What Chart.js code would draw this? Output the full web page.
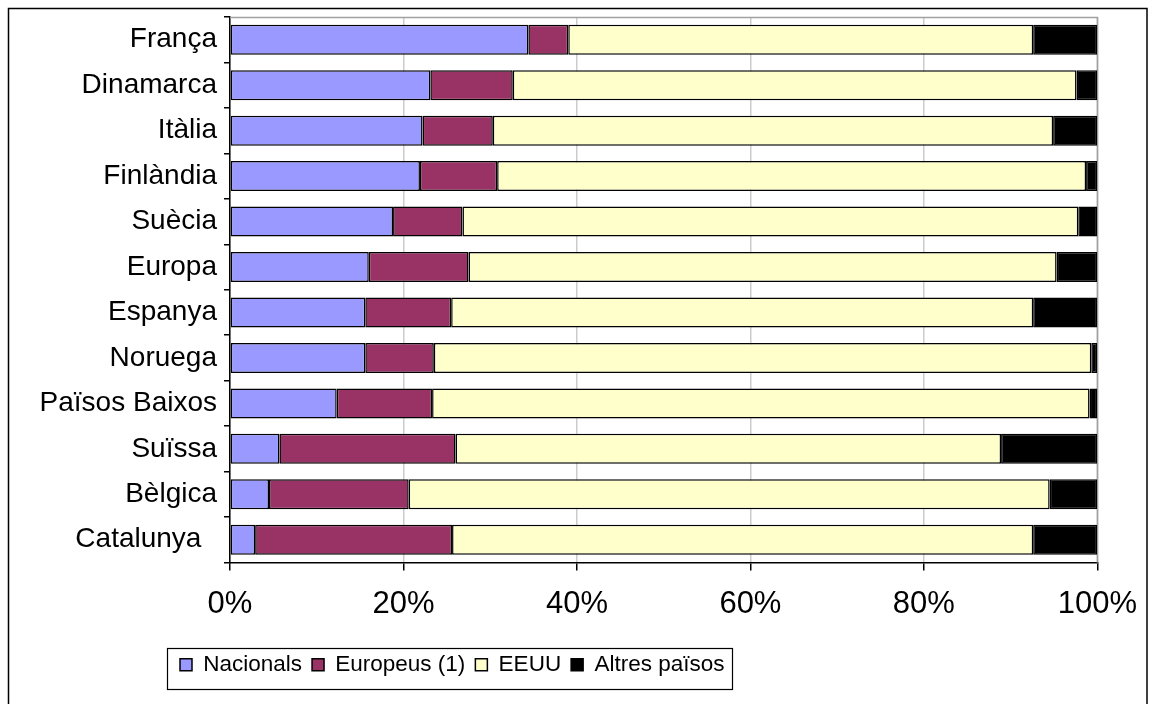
<!DOCTYPE html>
<html>
<head>
<meta charset="utf-8">
<script src="https://cdn.jsdelivr.net/npm/chart.js@4/dist/chart.umd.min.js"></script>
<style>
  html, body { margin: 0; padding: 0; background: #fff; }
  #wrap { position: relative; width: 1152px; height: 704px; }
</style>
</head>
<body>
<div id="wrap"><canvas id="c" width="1152" height="704"></canvas></div>
<script>
const categories = ["França", "Dinamarca", "Itàlia", "Finlàndia", "Suècia", "Europa", "Espanya", "Noruega", "Països Baixos", "Suïssa", "Bèlgica", "Catalunya  "];
const nacionals = [34.4, 23.1, 22.2, 21.9, 18.8, 16.0, 15.6, 15.6, 12.3, 5.7, 4.5, 2.9];
const europeus  = [4.6, 9.5, 8.1, 8.9, 8.0, 11.5, 9.9, 7.9, 11.0, 20.3, 16.1, 22.7];
const eeuu      = [53.6, 65.0, 64.6, 67.9, 71.0, 67.8, 67.1, 75.8, 75.8, 62.9, 73.9, 67.0];
const altres    = [7.4, 2.4, 5.1, 1.3, 2.2, 4.7, 7.4, 0.7, 0.9, 11.1, 5.5, 7.4];
const seriesNames = ["Nacionals", "Europeus (1)", "EEUU", "Altres països"];
const xTicks = [0, 20, 40, 60, 80, 100];

const colors = ["#9999FF", "#993366", "#FFFFCC", "#000000"];
const FONT = "'Liberation Sans', Arial, Helvetica, sans-serif";

const frame = {
  id: 'frame',
  afterLayout(chart) {
    const lg = chart.legend;
    if (lg) { lg.left = 170; }
  },
  beforeDraw(chart) {
    const ctx = chart.ctx;
    ctx.save();
    ctx.fillStyle = '#fff';
    ctx.fillRect(0, 0, chart.width, chart.height);
    ctx.strokeStyle = '#000';
    ctx.lineWidth = 1.5;
    ctx.strokeRect(8.5, 8.5, 1138.5, 720);
    ctx.restore();
  },
  beforeDatasetsDraw(chart) {
    const a = chart.chartArea, ctx = chart.ctx;
    ctx.save();
    ctx.strokeStyle = '#a0a0a0';
    ctx.lineWidth = 1.5;
    ctx.beginPath();
    ctx.moveTo(a.left, a.top + 0.5);
    ctx.lineTo(a.right, a.top + 0.5);
    ctx.lineTo(a.right, a.bottom);
    ctx.stroke();
    ctx.restore();
  },
  afterDraw(chart) {
    const lg = chart.legend;
    if (!lg || !lg.legendHitBoxes || !lg.legendHitBoxes.length) return;
    const hb = lg.legendHitBoxes;
    const first = hb[0], last = hb[hb.length - 1];
    const ctx = chart.ctx;
    const left = first.left - 13;
    const right = last.left + last.width + 8;
    const top = lg.top + 4;
    const bottom = lg.top + 45;
    ctx.save();
    ctx.strokeStyle = '#000';
    ctx.lineWidth = 1.2;
    ctx.strokeRect(Math.round(left) + 0.5, Math.round(top) + 0.5, Math.round(right - left), Math.round(bottom - top));
    ctx.restore();
  }
};

const seriesData = [nacionals, europeus, eeuu, altres];
const datasets = seriesNames.map((name, i) => ({
  label: name,
  data: seriesData[i],
  backgroundColor: colors[i],
  borderColor: '#000',
  borderWidth: 1.5,
  borderSkipped: false,
  barPercentage: 0.66,
  categoryPercentage: 1.0
}));

new Chart(document.getElementById('c'), {
  type: 'bar',
  data: { labels: categories, datasets },
  plugins: [frame],
  options: {
    indexAxis: 'y',
    responsive: false,
    animation: false,
    devicePixelRatio: 1,
    layout: { padding: { left: 10, right: 53, top: 17, bottom: 18 } },
    plugins: {
      tooltip: { enabled: false },
      legend: {
        position: 'bottom',
        align: 'start',
        labels: {
          color: '#000',
          font: { family: FONT, size: 22.5 },
          boxWidth: 12,
          boxHeight: 12,
          padding: 10
        }
      }
    },
    scales: {
      x: {
        stacked: true,
        min: 0,
        max: 100,
        afterBuildTicks(scale) { scale.ticks = xTicks.map(v => ({ value: v })); },
        afterFit(scale) { scale.height = 81; },
        grid: { color: '#cccccc', lineWidth: 1.5, tickColor: '#000', tickLength: 8, tickWidth: 1.5 },
        border: { color: '#000', width: 1.5 },
        ticks: {
          color: '#000',
          font: { family: FONT, size: 31 },
          padding: 15,
          maxRotation: 0,
          callback: v => v + '%'
        }
      },
      y: {
        stacked: true,
        afterFit(scale) { scale.width = 220; scale.paddingTop = 0; scale.paddingBottom = 0; },
        grid: { drawOnChartArea: false, color: '#000', tickLength: 6, lineWidth: 1.5, offset: true },
        border: { color: '#000', width: 1.5 },
        ticks: {
          color: '#000',
          font: { family: FONT, size: 28 },
          padding: 7,
          autoSkip: false
        }
      }
    }
  }
});
</script>
</body>
</html>
